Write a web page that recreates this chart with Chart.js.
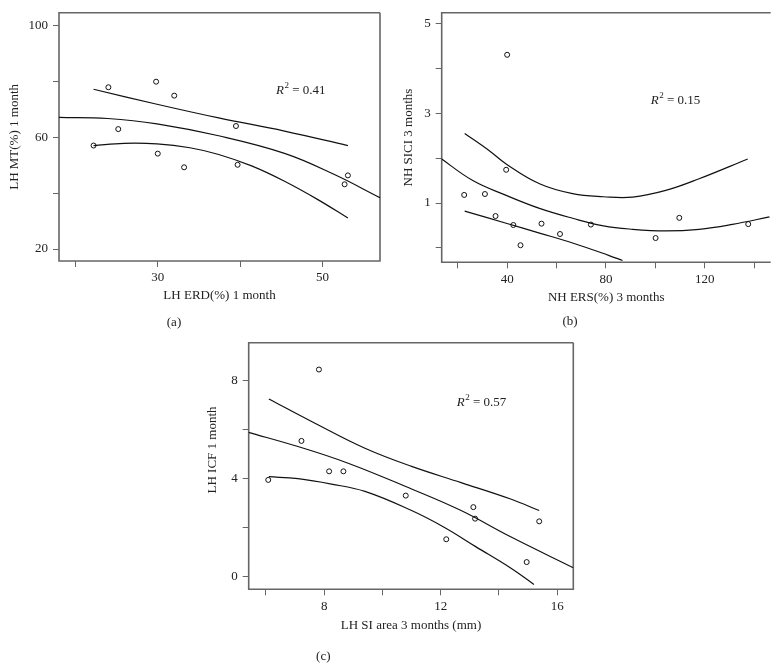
<!DOCTYPE html>
<html><head><meta charset="utf-8">
<script src="https://cdn.jsdelivr.net/npm/chart.js@4.4.0/dist/chart.umd.min.js"></script>
<style>
html,body{margin:0;padding:0;background:#fff;}
body{width:779px;height:665px;position:relative;overflow:hidden;}
canvas{position:absolute;}
</style></head><body>
<canvas id="ca" width="385" height="330" style="left:0;top:0;width:385px;height:330px"></canvas>
<canvas id="cb" width="394" height="330" style="left:385px;top:0;width:394px;height:330px"></canvas>
<canvas id="cc" width="400" height="335" style="left:190px;top:330px;width:400px;height:335px"></canvas>
<script>
// ---------- Panel (a): LH ERD(%) 1 month vs LH MT(%) 1 month ----------
const aPointsX = [22.2, 24.0, 25.2, 29.8, 30.0, 32.0, 33.2, 39.5, 39.7, 52.7, 53.1];
const aPointsY = [57.1, 78.0, 63.0, 80.0, 54.2, 75.0, 49.3, 64.1, 50.2, 43.2, 46.4];
const aFitX   = [18.0, 23.9, 29.9, 37.4, 45.4, 51.4, 57.0];
const aFitY   = [67.2, 66.8, 64.9, 60.6, 54.3, 46.8, 38.4];
const aUpperX = [22.2, 29.9, 37.4, 45.4, 53.1];
const aUpperY = [77.3, 71.9, 67.0, 62.3, 57.1];
const aLowerX = [22.2, 25.9, 29.9, 33.9, 37.4, 41.4, 45.4, 49.4, 53.1];
const aLowerY = [57.1, 57.9, 57.7, 56.3, 53.9, 49.8, 44.3, 37.8, 31.1];
const aXTicks = [20, 30, 40, 50];
const aXLabeled = [30, 50];
const aYTicks = [20, 40, 60, 80, 100];
const aYLabeled = [20, 60, 100];
const aR2 = '0.41';

// ---------- Panel (b): NH ERS(%) 3 months vs NH SICI 3 months ----------
const bPointsX = [22.6, 31.0, 35.3, 39.6, 40.0, 42.5, 45.4, 53.9, 61.4, 73.9, 100.1, 109.7, 137.6];
const bPointsY = [1.18, 1.20, 0.71, 1.74, 4.30, 0.51, 0.06, 0.54, 0.31, 0.52, 0.22, 0.67, 0.53];
const bFitX   = [12.7, 26.1, 39.6, 53.1, 66.5, 79.0, 90.8, 104.2, 117.7, 131.2, 146.2];
const bFitY   = [2.01, 1.50, 1.17, 0.88, 0.66, 0.49, 0.415, 0.38, 0.415, 0.525, 0.69];
const bUpperX = [22.8, 32.9, 39.6, 53.1, 66.5, 79.0, 90.8, 104.2, 117.7, 137.4];
const bUpperY = [2.55, 2.16, 1.87, 1.43, 1.21, 1.14, 1.13, 1.28, 1.54, 1.98];
const bLowerX = [22.8, 39.6, 53.1, 66.5, 81.3, 86.7];
const bLowerY = [0.82, 0.55, 0.33, 0.11, -0.17, -0.28];
const bXTicks = [20, 40, 60, 80, 100, 120, 140];
const bXLabeled = [40, 80, 120];
const bYTicks = [0, 1, 2, 3, 4, 5];
const bYLabeled = [1, 3, 5];
const bR2 = '0.15';

// ---------- Panel (c): LH SI area 3 months (mm) vs LH ICF 1 month ----------
const cPointsX = [6.08, 7.22, 7.82, 8.17, 8.66, 10.8, 12.19, 13.12, 13.18, 14.95, 15.38];
const cPointsY = [3.95, 5.54, 8.45, 4.30, 4.30, 3.31, 1.53, 2.84, 2.37, 0.60, 2.26];
const cFitX   = [5.4, 7.1, 8.8, 11.0, 12.7, 14.4, 16.55];
const cFitY   = [5.89, 5.31, 4.64, 3.58, 2.70, 1.63, 0.37];
const cUpperX = [6.1, 7.7, 9.4, 11.0, 12.7, 14.4, 15.38];
const cUpperY = [7.25, 6.25, 5.24, 4.50, 3.84, 3.17, 2.70];
const cLowerX = [6.1, 7.1, 8.25, 9.4, 11.0, 12.1, 13.2, 14.4, 15.2];
const cLowerY = [4.08, 4.00, 3.78, 3.48, 2.70, 2.03, 1.23, 0.36, -0.31];
const cXTicks = [6, 8, 10, 12, 14, 16];
const cXLabeled = [8, 12, 16];
const cYTicks = [0, 2, 4, 6, 8];
const cYLabeled = [0, 4, 8];
const cR2 = '0.57';

// ---------- helpers ----------
const FONT = '"Liberation Serif", "DejaVu Serif", serif';
const INK = '#222';
const FRAME = '#666';
const zip = (xs, ys) => xs.map((x, i) => ({x: x, y: ys[i]}));

const framePlugin = {
  id: 'frame',
  beforeDatasetsDraw(chart, args, o) {
    const a = chart.chartArea, ctx = chart.ctx;
    ctx.save();
    ctx.strokeStyle = FRAME;
    ctx.lineWidth = 1.6;
    ctx.beginPath();
    ctx.moveTo(a.right, a.top); ctx.lineTo(a.left, a.top);
    ctx.lineTo(a.left, a.bottom); ctx.lineTo(a.right, a.bottom);
    if (o.right) ctx.lineTo(a.right, a.top);
    ctx.stroke();
    ctx.restore();
  }
};

const textPlugin = {
  id: 'texts',
  afterDraw(chart, args, o) {
    const ctx = chart.ctx;
    ctx.save();
    ctx.fillStyle = INK;
    if (o.r2) {
      let x = o.r2.x; const y = o.r2.y;
      ctx.textBaseline = 'alphabetic';
      ctx.textAlign = 'left';
      ctx.font = 'italic 13px ' + FONT;
      ctx.fillText('R', x, y);
      x += ctx.measureText('R').width + 0.5;
      ctx.font = '9px ' + FONT;
      ctx.fillText('2', x, y - 6);
      x += ctx.measureText('2').width;
      ctx.font = '13px ' + FONT;
      ctx.fillText(' = ' + o.r2.value, x, y);
    }
    (o.items || []).forEach(it => {
      ctx.save();
      ctx.font = '13px ' + FONT;
      ctx.textAlign = 'center';
      ctx.textBaseline = 'middle';
      ctx.translate(it.x, it.y);
      if (it.rot) ctx.rotate(it.rot);
      ctx.fillText(it.text, 0, 0);
      ctx.restore();
    });
    ctx.restore();
  }
};

function makePanel(id, cfg) {
  const lineDs = (xs, ys) => ({
    data: zip(xs, ys), showLine: true, pointRadius: 0, pointHoverRadius: 0,
    borderColor: '#111', borderWidth: 1.2, tension: 0.4, fill: false, order: 2
  });
  const axisCommon = (ticks, labeled, min, max, size, title, titlePad, horizontal) => ({
    type: 'linear', min: min, max: max,
    border: {display: false},
    grid: {display: true, drawOnChartArea: false, drawTicks: true, tickLength: 6, color: FRAME, lineWidth: 1},
    afterBuildTicks: s => { s.ticks = ticks.map(v => ({value: v})); },
    afterFit: s => { if (horizontal) s.height = size; else s.width = size; },
    ticks: {
      color: INK, font: {family: FONT, size: 13}, padding: horizontal ? 3 : 5,
      maxRotation: 0, autoSkip: false,
      callback: v => labeled.includes(v) ? String(v) : ''
    },
    title: {
      display: !!title, text: title || '', color: INK,
      font: {family: FONT, size: 13},
      padding: horizontal ? {top: 0, bottom: titlePad} : {top: titlePad, bottom: 0}
    }
  });
  return new Chart(document.getElementById(id), {
    type: 'scatter',
    data: {
      datasets: [
        {data: zip(cfg.px, cfg.py), pointRadius: 2.5, pointBorderWidth: 1, pointBorderColor: '#111',
         pointBackgroundColor: 'rgba(255,255,255,0)', showLine: false, order: 1},
        lineDs(cfg.fx, cfg.fy), lineDs(cfg.ux, cfg.uy), lineDs(cfg.lx, cfg.ly)
      ]
    },
    options: {
      responsive: false, animation: false, devicePixelRatio: 1,
      layout: {padding: cfg.pad},
      plugins: {
        legend: {display: false}, tooltip: {enabled: false},
        frame: {right: cfg.boxRight},
        texts: {r2: cfg.r2, items: cfg.items}
      },
      scales: {
        x: axisCommon(cfg.xt, cfg.xl, cfg.xmin, cfg.xmax, 60, cfg.xtitle, cfg.xtp, true),
        y: axisCommon(cfg.yt, cfg.yl, cfg.ymin, cfg.ymax, cfg.yw, cfg.ytitle, cfg.ytp, false)
      }
    },
    plugins: [framePlugin, textPlugin]
  });
}

makePanel('ca', {
  px: aPointsX, py: aPointsY, fx: aFitX, fy: aFitY, ux: aUpperX, uy: aUpperY, lx: aLowerX, ly: aLowerY,
  xt: aXTicks, xl: aXLabeled, yt: aYTicks, yl: aYLabeled,
  xmin: 18, xmax: 57, ymin: 15.7, ymax: 104.7,
  pad: {left: 0, top: 7, right: 2, bottom: 9}, yw: 59,
  xtitle: 'LH ERD(%) 1 month', xtp: 17.2, ytitle: 'LH MT(%) 1 month', ytp: 7.2,
  boxRight: true,
  r2: {value: aR2, x: 276, y: 94},
  items: [{text: '(a)', x: 174, y: 323}]
});

makePanel('cb', {
  px: bPointsX, py: bPointsY, fx: bFitX, fy: bFitY, ux: bUpperX, uy: bUpperY, lx: bLowerX, ly: bLowerY,
  xt: bXTicks, xl: bXLabeled, yt: bYTicks, yl: bYLabeled,
  xmin: 13.5, xmax: 146.7, ymin: -0.32, ymax: 5.235,
  pad: {left: 0, top: 10, right: 8.3, bottom: 7.7}, yw: 56.7,
  xtitle: 'NH ERS(%) 3 months', xtp: 16.8, ytitle: 'NH SICI 3 months', ytp: 15.5,
  boxRight: false,
  r2: {value: bR2, x: 265.7, y: 104},
  items: [{text: '(b)', x: 185, y: 322}]
});

makePanel('cc', {
  px: cPointsX, py: cPointsY, fx: cFitX, fy: cFitY, ux: cUpperX, uy: cUpperY, lx: cLowerX, ly: cLowerY,
  xt: cXTicks, xl: cXLabeled, yt: cYTicks, yl: cYLabeled,
  xmin: 5.41, xmax: 16.55, ymin: -0.51, ymax: 9.54,
  pad: {left: 0, top: 9.3, right: 16.7, bottom: 15.7}, yw: 58.7,
  xtitle: 'LH SI area 3 months (mm)', xtp: 15.8, ytitle: '', ytp: 0,
  boxRight: true,
  r2: {value: cR2, x: 266.7, y: 76},
  items: [{text: '(c)', x: 133.3, y: 326.7}, {text: 'LH ICF 1 month', x: 22.7, y: 120, rot: -Math.PI / 2}]
});
</script>
</body></html>
